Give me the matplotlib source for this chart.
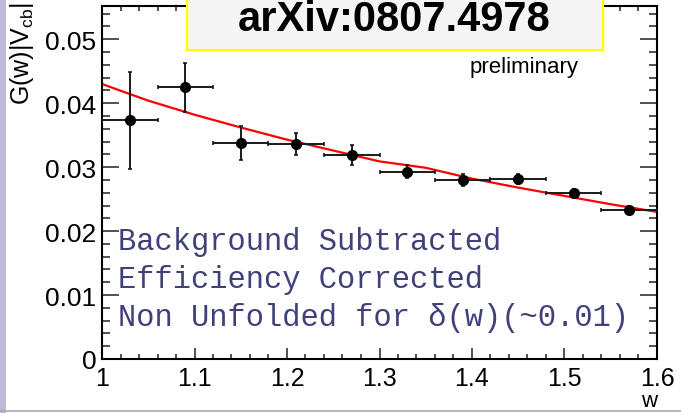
import matplotlib
matplotlib.use("Agg")
import matplotlib.pyplot as plt
from matplotlib.patches import Rectangle
from matplotlib.ticker import MultipleLocator

# measured points: w, G(w)|Vcb| and errors
w_pts = [1.03, 1.09, 1.15, 1.21, 1.27, 1.33, 1.39, 1.45, 1.51, 1.57]
g_pts = [0.0373, 0.0425, 0.0338, 0.0336, 0.0319, 0.0293, 0.0280, 0.0282, 0.0260, 0.0233]
g_err = [0.0076, 0.0038, 0.0027, 0.0017, 0.0015, 0.0010, 0.0010, 0.0008, 0.0006, 0.0006]
w_err = [0.03] * 10

# fit curve
w_fit = [1.0, 1.05, 1.1, 1.15, 1.2, 1.25, 1.3, 1.35, 1.4, 1.45, 1.5, 1.55, 1.6]
g_fit = [0.0430, 0.0404, 0.0382, 0.0362, 0.0343, 0.0326, 0.0309, 0.0299, 0.0282, 0.0268, 0.0255, 0.0242, 0.0230]

notes = ["Background Subtracted", "Efficiency Corrected", "Non Unfolded for \u03b4(w)(~0.01)"]

plt.rcParams['font.family'] = ['Liberation Sans', 'DejaVu Sans']

fig = plt.figure(figsize=(6.81, 4.14), dpi=100)
ax = fig.add_axes([102/681, 1-360/414, 555/681, 353/414])

ax.plot(w_fit, g_fit, color='#ff0000', lw=1.6, zorder=2)
ax.errorbar(w_pts, g_pts, xerr=w_err, yerr=g_err, fmt='o', color='black', ms=7,
            elinewidth=1.4, capsize=1.5, capthick=1.2, ecolor='#1a1a1a', zorder=3)

ax.set_xlim(1.0, 1.6)
ax.set_ylim(0, 0.0552)
ax.xaxis.set_major_locator(MultipleLocator(0.1))
ax.xaxis.set_minor_locator(MultipleLocator(0.02))
ax.yaxis.set_major_locator(MultipleLocator(0.01))
ax.yaxis.set_minor_locator(MultipleLocator(0.002))
ax.set_xticks([1.0, 1.1, 1.2, 1.3, 1.4, 1.5, 1.6])
ax.set_xticklabels(['1', '1.1', '1.2', '1.3', '1.4', '1.5', '1.6'])
ax.set_yticks([0, 0.01, 0.02, 0.03, 0.04, 0.05])
ax.set_yticklabels(['0', '0.01', '0.02', '0.03', '0.04', '0.05'])

ax.tick_params(axis='both', which='both', direction='in', top=True, right=True, width=1.1, color='#222222')
ax.tick_params(axis='x', which='major', length=7.6, labelsize=18, pad=5)
ax.tick_params(axis='x', which='minor', length=3.8)
ax.tick_params(axis='y', which='major', length=12, labelsize=19, pad=4)
ax.tick_params(axis='y', which='minor', length=6)
for s in ax.spines.values():
    s.set_linewidth(1.5)

ys = [0.335, 0.227, 0.120]
for t, y in zip(notes, ys):
    ax.text(0.029, y, t, transform=ax.transAxes, fontsize=22, color='#40407a',
            family=['Liberation Mono', 'DejaVu Sans Mono'], va='center', ha='left')

ax.text(0.76, 0.83, 'preliminary', transform=ax.transAxes, fontsize=16, ha='center', va='center')

# axis titles, ROOT style
fig.text(22/681, 1-2/414, r'G(w)|V$_{\mathregular{cb}}$|', rotation=90, ha='center', va='top', fontsize=18)
fig.text(657/681, 2/414, 'w', ha='right', va='bottom', fontsize=16)

# arXiv box over the top of the frame
fig.add_artist(Rectangle((187/681, 1-51/414), 416/681, 60/414, transform=fig.transFigure,
                         facecolor='#f5f5f5', edgecolor='#ffff00', lw=1.6, zorder=10))
fig.text(394/681, 1-31/414, 'arXiv:0807.4978', ha='center', va='baseline', fontsize=30,
         fontweight='bold', zorder=11)

# slide leftovers: lavender strip at left, gray rule at bottom
fig.add_artist(Rectangle((0, 0), 6/681, 1, transform=fig.transFigure, facecolor='#bcbcd6',
                         edgecolor='none', zorder=0))
fig.add_artist(plt.Line2D([0, 1], [2/414, 2/414], transform=fig.transFigure, color='#a8a8b8', lw=1.2))

fig.savefig('out.png', dpi=100)
